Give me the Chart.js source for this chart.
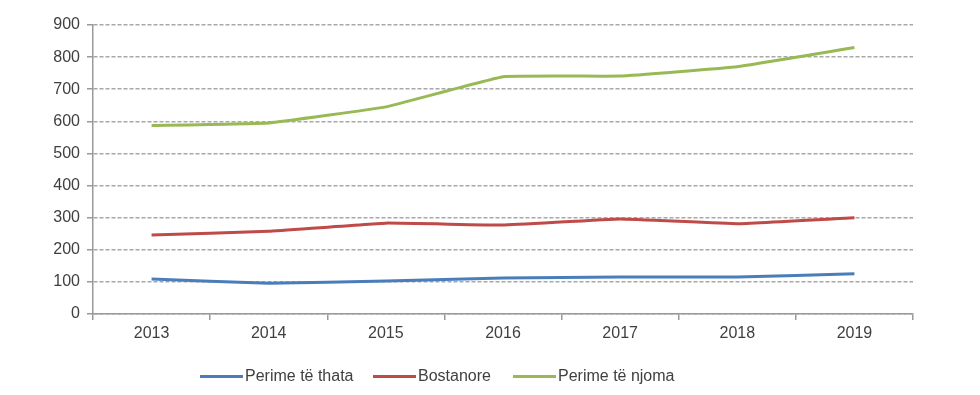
<!DOCTYPE html>
<html>
<head>
<meta charset="utf-8">
<script src="https://cdn.jsdelivr.net/npm/chart.js@4"></script>
<style>
    body { margin: 0; background: #fff; }
    #wrap { position: relative; width: 980px; height: 395px; }
    #legend { position: absolute; top: 367px; left: 0; width: 980px; height: 20px; font: 16px "Liberation Sans", Arial, sans-serif; color: #404040; }
    .item { position: absolute; top: 0; display: flex; align-items: center; white-space: nowrap; }
    .swatch { width: 43px; height: 3px; margin-right: 2px; }
</style>
</head>
<body>
<div id="wrap">
    <canvas id="chart" width="980" height="395"></canvas>
    <div id="legend"></div>
</div>
<script>
const years = ['2013', '2014', '2015', '2016', '2017', '2018', '2019'];
const dryVeg = [109, 96, 103, 112, 115, 115, 125];
const melons = [246, 258, 283, 277, 296, 281, 300];
const freshVeg = [587, 595, 645, 739, 741, 770, 830];
const seriesNames = ['Perime të thata', 'Bostanore', 'Perime të njoma'];
const seriesColors = ['#4a7ebb', '#be4b48', '#98b954'];
const legendLeft = [200, 373, 513];

const datasets = [dryVeg, melons, freshVeg].map((values, i) => ({
    label: seriesNames[i],
    data: values,
    borderColor: seriesColors[i],
    backgroundColor: seriesColors[i],
    borderWidth: 3,
    pointRadius: 0,
    tension: 0.08,
    fill: false
}));

const font = { family: '"Liberation Sans", Arial, sans-serif', size: 16 };

new Chart(document.getElementById('chart'), {
    type: 'line',
    data: { labels: years, datasets: datasets },
    options: {
        responsive: false,
        animation: false,
        layout: { padding: { left: 0, right: 67, top: 25, bottom: 41 } },
        plugins: {
            legend: { display: false },
            tooltip: { enabled: false }
        },
        scales: {
            x: {
                offset: true,
                grid: {
                    offset: true,
                    drawOnChartArea: false,
                    color: '#999',
                    tickLength: 6,
                    lineWidth: 1.5
                },
                border: { color: '#999', width: 1.5 },
                ticks: { color: '#404040', font: font, padding: 4, maxRotation: 0 },
                afterFit: scale => { scale.height = 40; }
            },
            y: {
                min: 0,
                max: 900,
                ticks: { stepSize: 100, color: '#404040', font: font, padding: 7 },
                grid: {
                    color: '#a8a8a8',
                    lineWidth: 1.5,
                    tickLength: 6,
                    tickColor: '#999',
                    tickBorderDash: []
                },
                border: { color: '#999', width: 1.5, dash: [4, 2] },
                afterFit: scale => { scale.width = 93; }
            }
        }
    }
});

// Legend under the chart
const legend = document.getElementById('legend');
seriesNames.forEach((name, i) => {
    legend.innerHTML += `
        <div class="item" style="left: ${legendLeft[i]}px;">
            <span class="swatch" style="background: ${seriesColors[i]};"></span>
            <span>${name}</span>
        </div>`;
});
</script>
</body>
</html>
